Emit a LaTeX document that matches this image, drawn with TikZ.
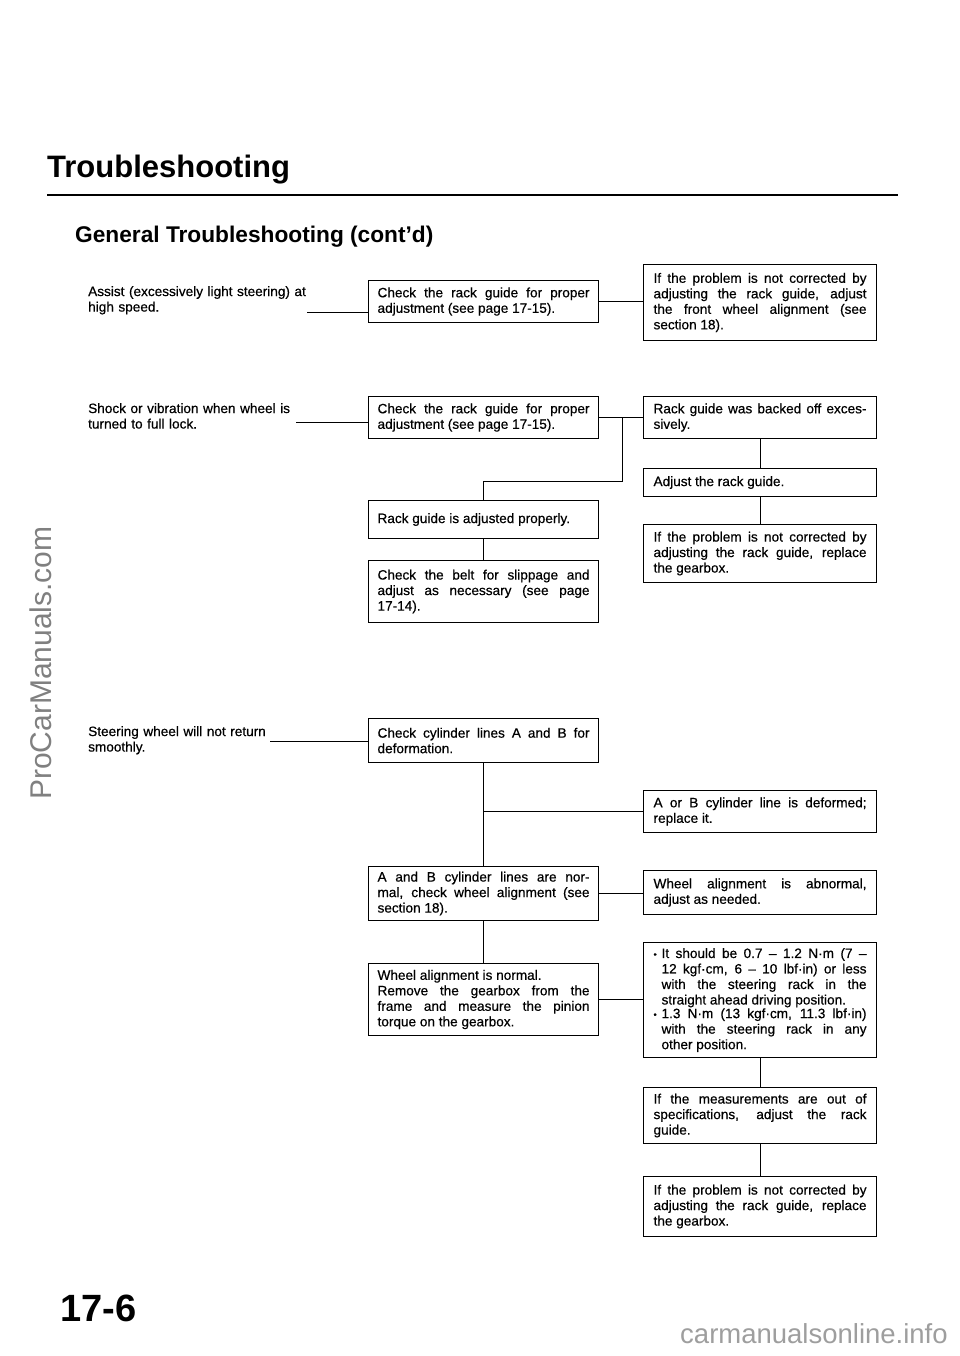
\documentclass[tikz,border=0pt]{standalone}
\usepackage{fontspec}
\setmainfont{Liberation Sans}
\newfontfamily\bodyfam{Liberation Sans}[FakeBold=0.5]
\usetikzlibrary{calc}
\newcommand\bodyfont{\bodyfam\fontsize{13.6}{15.5}\selectfont\tolerance=10000\hbadness=10000\relax}
\newcommand\bul{\makebox[8pt][l]{\raisebox{0.5pt}{\fontsize{9}{9}\selectfont •}}}
\newcommand\bulitem[1]{\noindent\bul\parbox[t]{205pt}{\tolerance=10000\hbadness=10000\relax #1}\par}
\tikzset{
  box/.style={draw, line width=1.1pt, anchor=north west, inner xsep=9pt, inner ysep=0pt,
    text width=212pt, minimum width=230pt, align=justify, font=\bodyfont},
  rbox/.style={box, inner xsep=10pt, text width=213pt, minimum width=233pt},
  lbl/.style={anchor=north west, inner sep=0pt, align=left, font=\bodyfont},
  conn/.style={line width=1pt},
}
\begin{document}
\begin{tikzpicture}[x=1pt,y=-1pt]
\fill[white] (0,0) rectangle (960,1356);
\useasboundingbox (0,0) rectangle (960,1356);

% headings
\node[anchor=base west, inner sep=0pt, font=\fontsize{31}{31}\selectfont\bfseries] (title) at (47,178) {Troubleshooting};
\draw[line width=2.6pt] (47,195) -- (898,195);
\node[anchor=base west, inner sep=0pt, font=\fontsize{22.7}{22.7}\selectfont\bfseries] (sub) at (75,243) {General Troubleshooting (cont'd)};

% row 1
\node[lbl, text width=219pt] (L1) at (88,286) {Assist (excessively light steering) at high speed.};
\node[box, minimum height=42pt] (B1) at (368,280) {Check the rack guide for proper\linebreak adjustment (see page 17-15).};
\node[rbox, minimum height=76pt] (R1) at (643,264) {If the problem is not corrected by\linebreak adjusting the rack guide, adjust\linebreak the front wheel alignment (see\linebreak section 18).};

% row 2
\node[lbl, text width=208pt] (L2) at (88,403) {Shock or vibration when wheel is turned to full lock.};
\node[box, minimum height=42pt] (B2) at (368,396) {Check the rack guide for proper\linebreak adjustment (see page 17-15).};
\node[rbox, minimum height=42pt] (R2) at (643,396) {Rack guide was backed off exces-\linebreak sively.};
\node[box, minimum height=38pt] (B3) at (368,500) {Rack guide is adjusted properly.};
\node[box, minimum height=62pt] (B4) at (368,560) {Check the belt for slippage and\linebreak adjust as necessary (see page\linebreak 17-14).};
\node[rbox, minimum height=28pt] (R3) at (643,468) {Adjust the rack guide.};
\node[rbox, minimum height=58pt] (R4) at (643,524) {If the problem is not corrected by\linebreak adjusting the rack guide, replace\linebreak the gearbox.};

% row 3
\node[lbl, text width=182pt] (L3) at (88,726) {Steering wheel will not return smoothly.};
\node[box, minimum height=44pt] (B5) at (368,718) {Check cylinder lines A and B for\linebreak deformation.};
\node[rbox, minimum height=42pt] (R5) at (643,790) {A or B cylinder line is deformed;\linebreak replace it.};
\node[box, minimum height=54pt] (B6) at (368,866) {A and B cylinder lines are nor-\linebreak mal, check wheel alignment (see\linebreak section 18).};
\node[rbox, minimum height=44pt] (R6) at (643,870) {Wheel alignment is abnormal,\linebreak adjust as needed.};
\node[box, minimum height=72pt] (B7) at (368,963) {Wheel alignment is normal.\newline Remove the gearbox from the\linebreak frame and measure the pinion\linebreak torque on the gearbox.};
\node[rbox, minimum height=115pt] (R7) at (643,942) {\bulitem{It should be 0.7 – 1.2 N·m (7 –\linebreak 12 kgf·cm, 6 – 10 lbf·in) or less\linebreak with the steering rack in the\linebreak straight ahead driving position.}
\bulitem{1.3 N·m (13 kgf·cm, 11.3 lbf·in)\linebreak with the steering rack in any\linebreak other position.}};
\node[rbox, minimum height=56pt] (R8) at (643,1087) {If the measurements are out of\linebreak specifications, adjust the rack\linebreak guide.};
\node[rbox, minimum height=60pt] (R9) at (643,1176) {If the problem is not corrected by\linebreak adjusting the rack guide, replace\linebreak the gearbox.};

% connectors
\draw[conn] ($(L1.north east)+(0,26)$) -- ($(L1.north east -| B1.west)+(0,26)$);
\draw[conn] (B1.east) -- (B1.east -| R1.west);
\draw[conn] ($(L2.north east)+(0,19)$) -- ($(L2.north east -| B2.west)+(0,19)$);
\draw[conn] (B2.east) -- (R2.west);
\coordinate (j2) at ($(B2.east)!0.53!(R2.west)$);
\draw[conn] (j2) -- ++(0,64) -| (B3.north);
\draw[conn] (B3.south) -- (B4.north);
\draw[conn] (R2.south) -- (R3.north);
\draw[conn] (R3.south) -- (R4.north);
\draw[conn] ($(L3.north east)+(0,15)$) -- ($(L3.north east -| B5.west)+(0,15)$);
\draw[conn] (B5.south) -- (B6.north);
\draw[conn] (R5.west) -- (R5.west -| B5.south);
\draw[conn] (B6.east) -- (B6.east -| R6.west);
\draw[conn] (B6.south) -- (B7.north);
\draw[conn] (B7.east) -- (B7.east -| R7.west);
\draw[conn] (R7.south) -- (R8.north);
\draw[conn] (R8.south) -- (R9.north);

% page number and marks
\node[anchor=base west, inner sep=0pt, font=\fontsize{38}{38}\selectfont\bfseries] (pg) at (60,1321) {17-6};
\node[rotate=90, anchor=base west, inner sep=0pt, text=black!50, font=\fontsize{30}{30}\selectfont] (wm) at (51,800) {ProCarManuals.com};
\node[anchor=base west, inner sep=0pt, text=black!38, font=\fontsize{27.5}{27.5}\selectfont] (wm2) at (680,1343) {carmanualsonline.info};
\end{tikzpicture}
\end{document}
